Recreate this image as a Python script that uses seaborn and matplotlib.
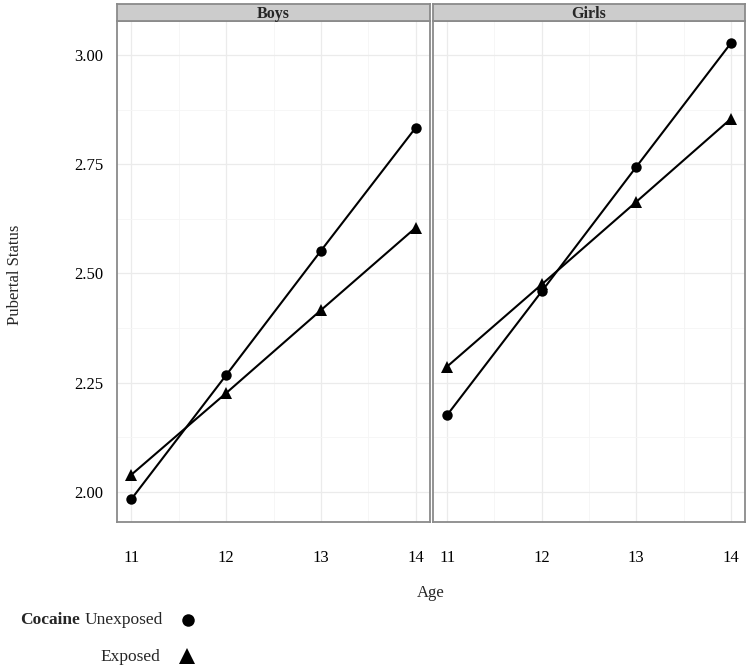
import matplotlib
matplotlib.use('Agg')

import matplotlib.pyplot as plt
from matplotlib.lines import Line2D
from matplotlib.ticker import MultipleLocator
import seaborn as sns
import pandas as pd

# values
ages = [11, 12, 13, 14]
boys_unexposed = [1.983, 2.267, 2.552, 2.834]
boys_exposed = [2.039, 2.226, 2.416, 2.605]
girls_unexposed = [2.176, 2.459, 2.744, 3.027]
girls_exposed = [2.287, 2.475, 2.664, 2.854]

rows = []
for sex, unexp, exp in [("Boys", boys_unexposed, boys_exposed),
                        ("Girls", girls_unexposed, girls_exposed)]:
    for a, u, e in zip(ages, unexp, exp):
        rows.append({"sex": sex, "age": a, "cocaine": "Unexposed", "status": u})
        rows.append({"sex": sex, "age": a, "cocaine": "Exposed", "status": e})
df = pd.DataFrame(rows)

sns.set_style("white")
plt.rcParams['font.family'] = ['Liberation Serif', 'DejaVu Serif']

W, H = 750, 670
fig = plt.figure(figsize=(7.5, 6.7), dpi=100)

def fx(px):
    return px / W

def fy(py):
    return 1 - py / H

panels = [("Boys", 117, 430), ("Girls", 433, 745)]
top, bottom = 21, 522
markers = {"Unexposed": "o", "Exposed": "^"}
sizes = {"Unexposed": 7.5, "Exposed": 9}
border = "#8a8a8a"

for i, (sex, x0, x1) in enumerate(panels):
    ax = fig.add_axes([fx(x0), fy(bottom), fx(x1 - x0), fy(top) - fy(bottom)])
    sub = df[df.sex == sex]
    for coc in ["Unexposed", "Exposed"]:
        s = sub[sub.cocaine == coc]
        sns.lineplot(data=s, x="age", y="status", ax=ax, color="black",
                     lw=1.5, marker=markers[coc], markersize=sizes[coc],
                     markeredgewidth=0, legend=False)
    ax.set_xlim(10.85, 14.15)
    ax.set_ylim(1.931, 3.078)
    ax.set_xticks(ages)
    ax.set_yticks([2.00, 2.25, 2.50, 2.75, 3.00])
    ax.xaxis.set_minor_locator(MultipleLocator(0.5))
    ax.yaxis.set_minor_locator(MultipleLocator(0.125))
    ax.grid(which="major", color="#ebebeb", lw=0.9)
    ax.grid(which="minor", color="#f5f5f5", lw=0.6)
    ax.set_axisbelow(True)
    for sp in ax.spines.values():
        sp.set_color(border)
        sp.set_linewidth(1.3)
    ax.tick_params(which="major", direction="out", length=4, width=0.8,
                   color="#333333", labelsize=12, labelcolor="black", pad=16)
    ax.tick_params(axis="y", pad=6)
    ax.tick_params(which="minor", length=0)
    ax.set_xlabel("")
    ax.set_ylabel("")
    if i == 0:
        ax.set_yticklabels(["2.00", "2.25", "2.50", "2.75", "3.00"])
    else:
        ax.set_yticklabels([])
        ax.tick_params(axis="y", length=0)

    strip = fig.add_axes([fx(x0), fy(top), fx(x1 - x0), fy(4) - fy(top)])
    strip.set_facecolor("#cccccc")
    strip.set_xticks([])
    strip.set_yticks([])
    for sp in strip.spines.values():
        sp.set_color(border)
        sp.set_linewidth(1.3)
    strip.text(0.5, 0.42, sex, ha="center", va="center", fontsize=11.5,
               fontweight="bold", transform=strip.transAxes)

fig.text(fx(431), fy(593), "Age", ha="center", va="center", fontsize=12)
fig.text(fx(15), fy(275), "Pubertal Status", ha="center", va="center",
         rotation=90, fontsize=12)

# legend
fig.text(fx(20), fy(620), "Cocaine", ha="left", va="center",
         fontsize=12.5, fontweight="bold")
fig.text(fx(163), fy(620), "Unexposed", ha="right", va="center", fontsize=12.5)
fig.text(fx(160), fy(657), "Exposed", ha="right", va="center", fontsize=12.5)
fig.add_artist(Line2D([fx(188)], [fy(620)], marker="o", color="black",
                      markersize=9, markeredgewidth=0, transform=fig.transFigure))
fig.add_artist(Line2D([fx(187)], [fy(656)], marker="^", color="black",
                      markersize=11, markeredgewidth=0, transform=fig.transFigure))

fig.savefig("out.png", dpi=100)
